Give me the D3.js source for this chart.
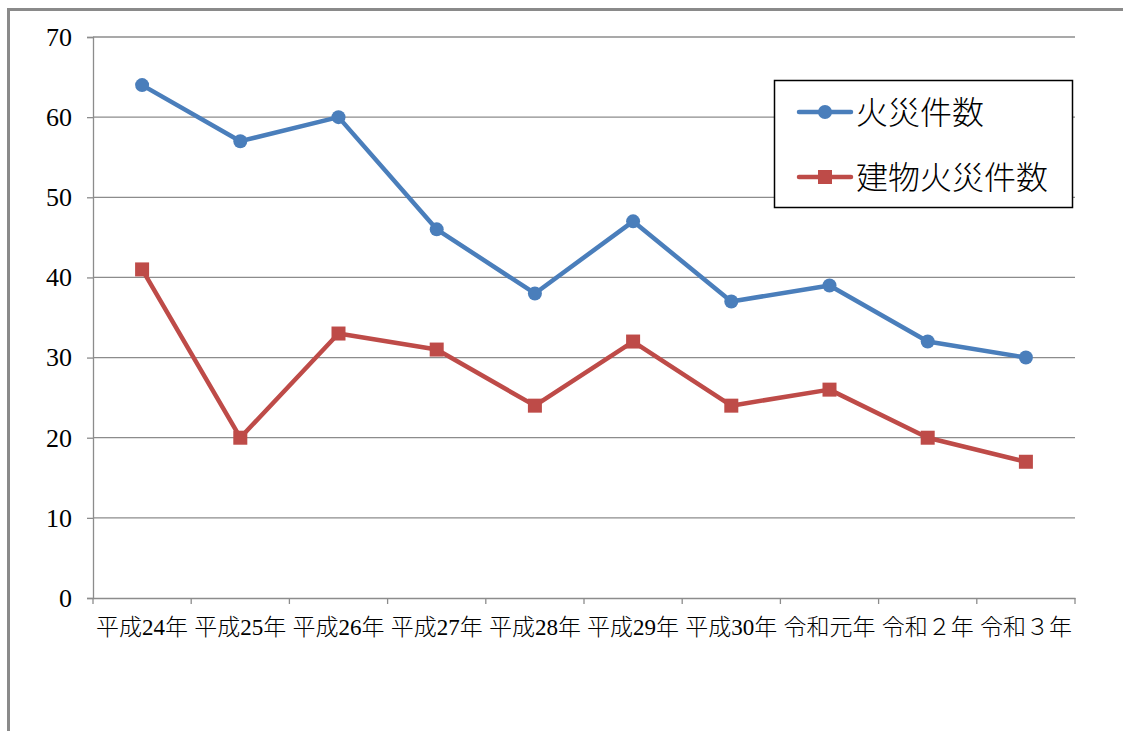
<!DOCTYPE html>
<html>
<head>
<meta charset="utf-8">
<script src="https://cdn.jsdelivr.net/npm/d3@7"></script>
<style>
  body { margin: 0; background: #fff; }
  svg text { font-family: "Liberation Serif", "Noto Sans CJK JP", serif; fill: #000; }
</style>
</head>
<body>
<div id="chart"></div>
<script>
const categories = ["平成24年", "平成25年", "平成26年", "平成27年", "平成28年", "平成29年", "平成30年", "令和元年", "令和２年", "令和３年"];
const fireCounts = [64, 57, 60, 46, 38, 47, 37, 39, 32, 30];
const buildingFireCounts = [41, 20, 33, 31, 24, 32, 24, 26, 20, 17];
const yTicks = [0, 10, 20, 30, 40, 50, 60, 70];
const seriesNames = ["火災件数", "建物火災件数"];

const W = 1123, H = 731;
const plot = {left: 93, right: 1075, top: 37, bottom: 598};
const blue = "#4a7ebb", red = "#be4b48", grid = "#8c8c8c";

const svg = d3.select("#chart").append("svg")
  .attr("width", W)
  .attr("height", H);

/* outer frame: only top and left edges visible */
svg.append("path")
  .attr("d", `M8.5,${H} L8.5,9.5 L${W},9.5`)
  .attr("fill", "none")
  .attr("stroke", "#8a8a8a")
  .attr("stroke-width", 3);

const x = d3.scaleBand()
  .domain(categories)
  .range([plot.left, plot.right]);

const y = d3.scaleLinear()
  .domain([0, 70])
  .range([plot.bottom, plot.top]);

/* horizontal grid */
svg.append("g")
  .selectAll("line")
  .data(yTicks.filter(d => d > 0))
  .join("line")
    .attr("x1", plot.left).attr("x2", plot.right)
    .attr("y1", d => y(d)).attr("y2", d => y(d))
    .attr("stroke", grid).attr("stroke-width", 1.3);

/* y axis */
const yAxis = svg.append("g")
  .attr("transform", `translate(${plot.left},0)`)
  .call(d3.axisLeft(y).tickValues(yTicks).tickSize(6).tickPadding(15));
yAxis.select(".domain").attr("stroke", grid).attr("stroke-width", 1.3);
yAxis.selectAll(".tick line").attr("stroke", grid).attr("stroke-width", 1.3);
yAxis.selectAll("text").attr("font-size", 26).attr("fill", "#000")
  .style("font-family", "'Liberation Serif', serif");

/* x axis */
const xAxis = svg.append("g")
  .attr("transform", `translate(0,${plot.bottom})`)
  .call(d3.axisBottom(x).tickSize(0).tickPadding(21));
xAxis.select(".domain").attr("stroke", grid).attr("stroke-width", 1.3);
xAxis.selectAll("text").attr("font-size", 23).attr("fill", "#000")
  .style("font-family", "'Liberation Serif', 'Noto Sans CJK JP', serif")
  .style("font-weight", 300);

/* x ticks at category boundaries */
const bounds = categories.map(c => x(c)).concat([plot.right]);
svg.append("g")
  .selectAll("line")
  .data(bounds)
  .join("line")
    .attr("x1", d => d).attr("x2", d => d)
    .attr("y1", plot.bottom).attr("y2", plot.bottom + 6)
    .attr("stroke", grid).attr("stroke-width", 1.3);

const cx = c => x(c) + x.bandwidth() / 2;

const line = d3.line()
  .x((d, i) => cx(categories[i]))
  .y(d => y(d));

/* fire series */
svg.append("path")
  .datum(fireCounts)
  .attr("d", line)
  .attr("fill", "none")
  .attr("stroke", blue)
  .attr("stroke-width", 4.5)
  .attr("stroke-linejoin", "round");

svg.append("g")
  .selectAll("circle")
  .data(fireCounts)
  .join("circle")
    .attr("cx", (d, i) => cx(categories[i]))
    .attr("cy", d => y(d))
    .attr("r", 7)
    .attr("fill", blue);

/* building fire series */
svg.append("path")
  .datum(buildingFireCounts)
  .attr("d", line)
  .attr("fill", "none")
  .attr("stroke", red)
  .attr("stroke-width", 4.5)
  .attr("stroke-linejoin", "round");

svg.append("g")
  .selectAll("rect")
  .data(buildingFireCounts)
  .join("rect")
    .attr("x", (d, i) => cx(categories[i]) - 7)
    .attr("y", d => y(d) - 7)
    .attr("width", 14)
    .attr("height", 14)
    .attr("fill", red);

/* legend */
const legend = svg.append("g");
legend.append("rect")
  .attr("x", 774.5).attr("y", 80.5)
  .attr("width", 298).attr("height", 127)
  .attr("fill", "#fff")
  .attr("stroke", "#000")
  .attr("stroke-width", 1.5);

const legendRows = [
  {name: seriesNames[0], color: blue, marker: "circle", y: 112},
  {name: seriesNames[1], color: red, marker: "square", y: 177}
];

legendRows.forEach(r => {
  legend.append("line")
    .attr("x1", 799).attr("x2", 851)
    .attr("y1", r.y).attr("y2", r.y)
    .attr("stroke", r.color).attr("stroke-width", 4.5)
    .attr("stroke-linecap", "round");
  if (r.marker === "circle") {
    legend.append("circle")
      .attr("cx", 825).attr("cy", r.y).attr("r", 7)
      .attr("fill", r.color);
  } else {
    legend.append("rect")
      .attr("x", 818).attr("y", r.y - 7)
      .attr("width", 14).attr("height", 14)
      .attr("fill", r.color);
  }
  legend.append("text")
    .attr("x", 856).attr("y", r.y)
    .attr("dy", "0.36em")
    .attr("font-size", 32)
    .style("font-family", "'Noto Sans CJK JP', sans-serif")
    .style("font-weight", 300)
    .text(r.name);
});
</script>
</body>
</html>
